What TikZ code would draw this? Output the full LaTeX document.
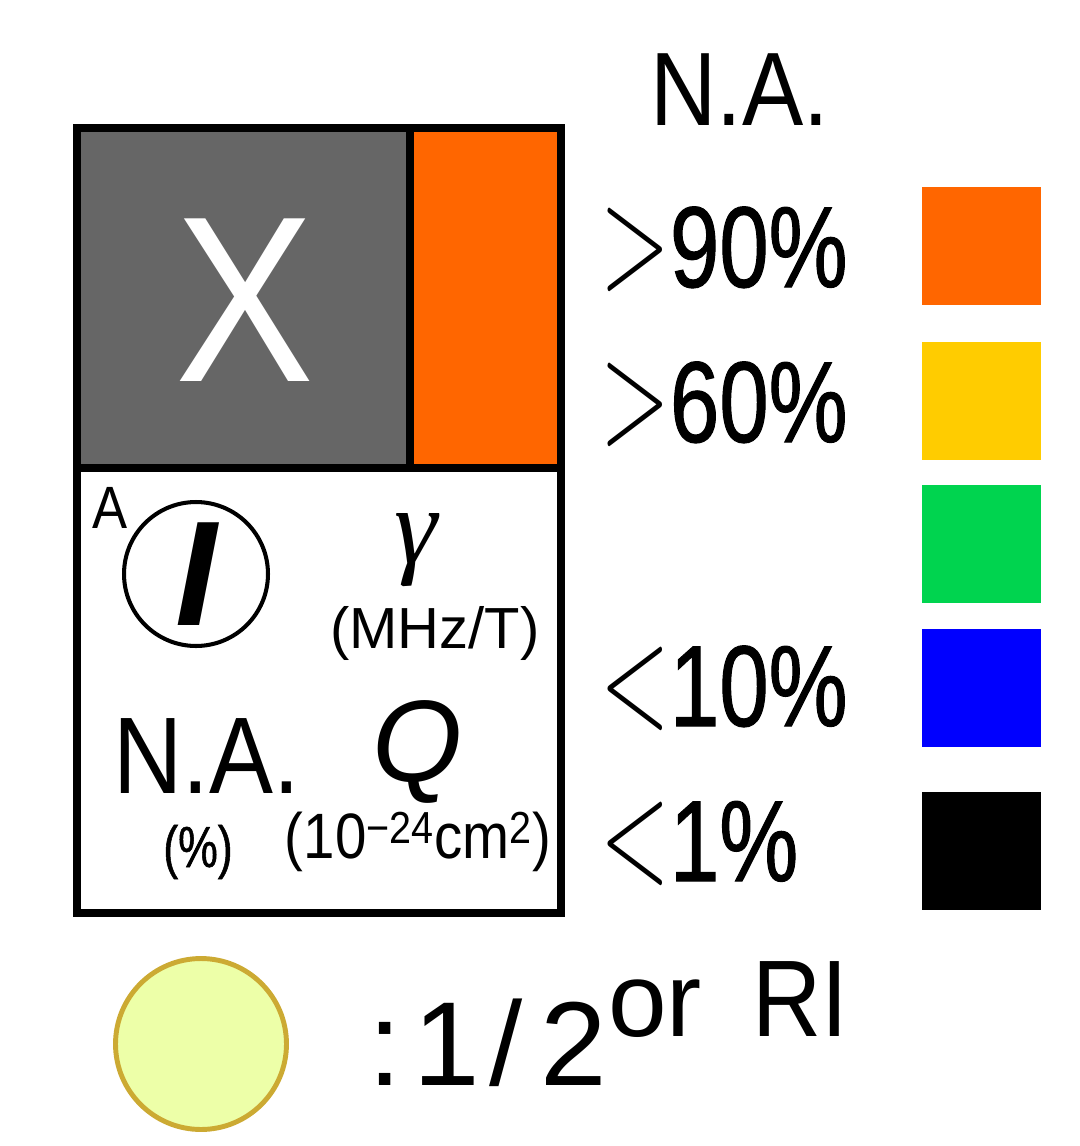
\documentclass[tikz,border=0pt]{standalone}
\usepackage{fontspec}
\usepackage{graphicx}
\setmainfont{Liberation Sans}
\newfontfamily\gothic[FakeStretch=0.88]{Liberation Sans}
\newfontfamily\gothicnum[FakeStretch=0.77, FakeBold=0.9]{Liberation Sans}
\newfontfamily\greekit{Liberation Serif}
\newfontfamily\lmr{Latin Modern Roman}
\definecolor{cellgray}{HTML}{666666}
\definecolor{naorange}{HTML}{FF6600}
\definecolor{nayellow}{HTML}{FFCC00}
\definecolor{nagreen}{HTML}{00D44F}
\definecolor{nablue}{HTML}{0000FF}
\definecolor{rifill}{HTML}{EDFFA8}
\definecolor{ridraw}{HTML}{CCAA33}
\newcommand{\gt}{\scalebox{1}[1.65]{\lmr\fontsize{52}{52}\selectfont >}}
\newcommand{\lt}{\scalebox{1}[1.65]{\lmr\fontsize{52}{52}\selectfont <}}
\begin{document}
\begin{tikzpicture}[x=0.02cm, y=-0.02cm,
        frame/.style  = {draw=black, line width=5.1pt},
        swatch/.style = {rectangle, inner sep=0pt,
                         minimum width=2.38cm, minimum height=2.36cm},
        txt/.style    = {inner sep=0pt, anchor=base west},
        lgd/.style    = {txt, font={\gothicnum\fontsize{65.6}{66}\selectfont}},
        big/.style    = {font={\gothic\fontsize{#1}{#1}\selectfont}},
        plain/.style  = {font={\fontsize{#1}{#1}\selectfont}}
    ]
        \useasboundingbox (0,0) rectangle (1079,1146);

        % element cell
        \fill[cellgray]  (77,128) rectangle (410,468);
        \fill[naorange]  (410,128) rectangle (561,468);
        \filldraw[fill=white, frame] (77,468) rectangle (561,913);
        \draw[frame] (77,128) rectangle (561,468);
        \draw[frame] (410,128) -- (410,468);

        \node[big=134.6, text=white] (sym) at (245,300) {X};
        \node[txt, big=34] (mass) at (92,528) {A};
        \node[circle, draw, line width=2.3pt, minimum size=2.88cm,
              inner sep=0pt] (spin) at (196,574) {};
        \node[font={\bfseries\itshape\fontsize{85}{85}\selectfont}] (spinI)
            at (spin.center) {I};
        \node[font={\greekit\itshape\fontsize{62}{62}\selectfont}] (gam)
            at (416,550) {γ};
        \node[plain=33] (gamu) at (435,633) {(MHz/T)};
        \node[txt, big=62] (abund) at (113,793) {N.A.};
        \node[font={\gothicnum\fontsize{33}{33}\selectfont}] (abundu)
            at (198,852) {(\%)};
        \node[font={\itshape\fontsize{66}{66}\selectfont}] (quad) at (418,752) {Q};
        \node[big=36.5] (quadu) at (418,842)
            {(10\textsuperscript{−24}cm\textsuperscript{2})};

        % legend
        \node[txt, big=59.4] (nahead) at (650,125) {N.A.};
        \node[lgd] (l90) at (600,287) {\gt90\%};
        \node[lgd] (l60) at (600,442) {\gt60\%};
        \node[lgd] (l10) at (600,726) {\lt10\%};
        \node[lgd] (l1)  at (600,881) {\lt1\%};

        \node[swatch, fill=naorange] (sw90) at (981.5,246) {};
        \node[swatch, fill=nayellow] (sw60) at (981.5,401) {};
        \node[swatch, fill=nagreen]  (swmid) at (981.5,544) {};
        \node[swatch, fill=nablue]   (sw10) at (981.5,688) {};
        \node[swatch, fill=black]    (sw1)  at (981.5,851) {};

        % half-spin / RI marker
        \node[circle, fill=rifill, draw=ridraw, line width=2.8pt,
              minimum size=3.42cm, inner sep=0pt] (ri) at (201,1044) {};
        \node[txt, plain=68] (half) at (368,1085)
            {:\hspace{0.1em}1\hspace{0.08em}/\hspace{0.15em}2};
        \node[txt, plain=60] (orw) at (608,1036) {or};
        \node[txt, big=62] (riw) at (752,1036) {RI};
    \end{tikzpicture}
\end{document}
